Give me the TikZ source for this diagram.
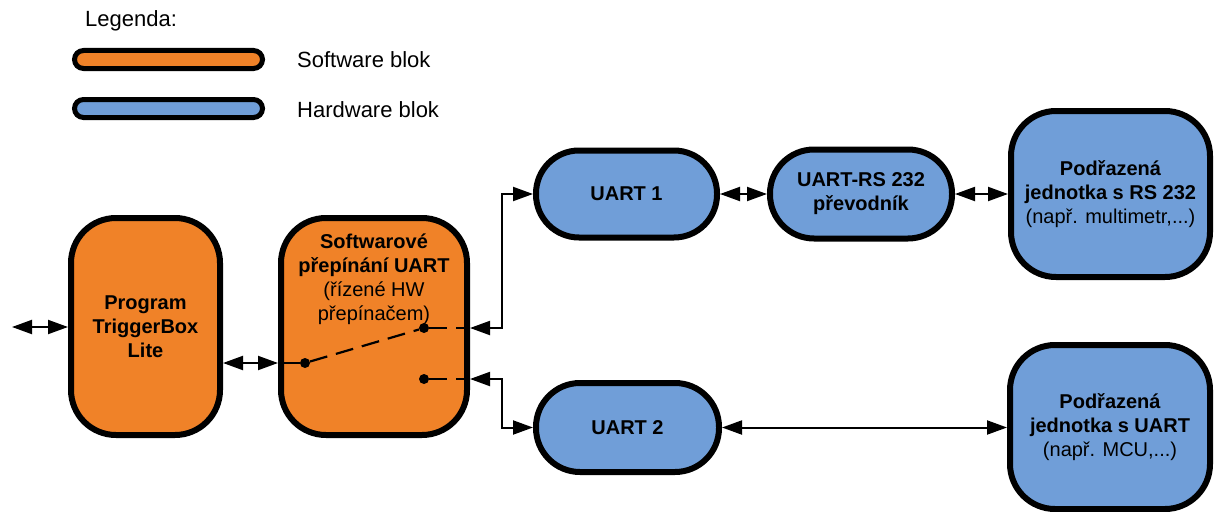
\documentclass[tikz,border=0pt]{standalone}
\usepackage{fontspec}
\setmainfont{Liberation Sans}
\usetikzlibrary{arrows.meta}
\definecolor{swfill}{RGB}{240,130,40}
\definecolor{hwfill}{RGB}{112,158,216}

\begin{document}
\begin{tikzpicture}[x=1pt,y=-1pt,
  block/.style={draw=black, line width=6pt, rounded corners=#1, inner sep=0pt,
    align=center, font=\fontsize{20}{24}\selectfont\bfseries},
  swblock/.style={block=45pt, fill=swfill},
  hwblock/.style={block=#1, fill=hwfill},
  legbar/.style={draw=black, line width=5pt, rounded corners=9pt, inner sep=0pt,
    minimum width=188pt, minimum height=18pt},
  legtext/.style={anchor=base west, inner sep=0pt, font=\fontsize{22}{26}\selectfont},
  dot/.style={circle, fill=black, inner sep=0pt, minimum size=10pt},
  wire/.style={line width=2pt},
  dashwire/.style={line width=2.2pt, dash pattern=on 18pt off 9pt},
  dbl/.style={wire, {Triangle[length=20pt,width=14pt]}-{Triangle[length=20pt,width=14pt]}}
]
\useasboundingbox (0,0) rectangle (1214,511);

% legend
\node[legtext] (legtitle) at (85,27) {Legenda:};
\node[legbar, fill=swfill] (legsw) at (168.5,59.5) {};
\node[legbar, fill=hwfill] (leghw) at (168.5,108.5) {};
\node[legtext] (legswtext) at (297,67) {Software blok};
\node[legtext] (leghwtext) at (297,117) {Hardware blok};

% software blocks
\node[swblock, minimum width=149pt, minimum height=217pt] (prog) at (145.5,326.5)
  {Program\\TriggerBox\\Lite};
\node[swblock, minimum width=186pt, minimum height=217pt] (sw) at (374,326.5) {};
\node[align=center, inner sep=0pt, font=\fontsize{20}{24}\selectfont] (swtext) at (374,279)
  {\textbf{Softwarové}\\\textbf{přepínání UART}\\(řízené HW\\přepínačem)};

% hardware blocks
\node[hwblock=43pt, minimum width=181pt, minimum height=87pt] (u1) at (626.5,194) {UART 1};
\node[hwblock=44pt, minimum width=182pt, minimum height=89pt] (conv) at (861,194)
  {UART-RS 232\\převodník};
\node[hwblock=45pt, minimum width=199pt, minimum height=166pt] (rs) at (1110.5,194)
  {Podřazená\\jednotka s RS 232\\{\mdseries (např. multimetr,...)}};
\node[hwblock=44pt, minimum width=183pt, minimum height=89pt] (u2) at (627.5,427.5) {UART 2};
\node[hwblock=45pt, minimum width=200pt, minimum height=164pt] (mcu) at (1110,427)
  {Podřazená\\jednotka s UART\\{\mdseries (např. MCU,...)}};

% switch contacts
\node[dot] (d1) at (305,363) {};
\node[dot] (d2) at (424,328) {};
\node[dot] (d3) at (424,379) {};
\coordinate (ext) at (12,327);
\coordinate (bus) at (502,0);

% connectors
\draw[dbl] (ext) -- (prog.west |- ext);
\draw[dbl] (prog.east |- d1) -- (sw.west |- d1);
\draw[wire] (sw.west |- d1) -- (d1);
\draw[dashwire] (d1) -- (d2);
\draw[dashwire] (d2) -- (sw.east |- d2);
\draw[dashwire] (d3) -- (sw.east |- d3);
\draw[dbl] (sw.east |- d2) -- (bus |- d2) |- (u1.west);
\draw[dbl] (sw.east |- d3) -- (bus |- d3) |- (u2.west);
\draw[dbl] (u1.east) -- (conv.west);
\draw[dbl] (conv.east) -- (rs.west);
\draw[dbl] (u2.east) -- (u2.east -| mcu.west);
\end{tikzpicture}
\end{document}
